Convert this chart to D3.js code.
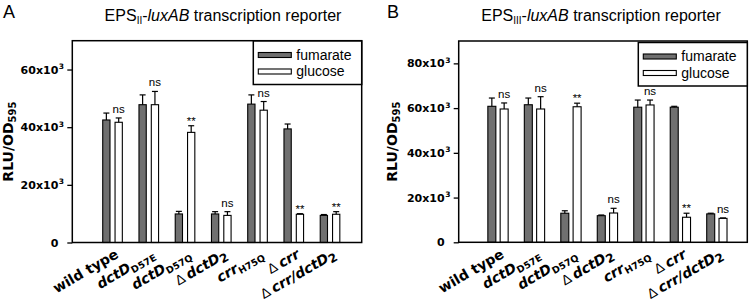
<!DOCTYPE html>
<html><head><meta charset="utf-8">
<script src="https://cdn.jsdelivr.net/npm/d3@7"></script>
<style>body{margin:0;background:#fff}svg{display:block}</style>
</head><body>
<svg id="c" width="750" height="302"></svg>
<script>
// ---------- data ----------
const categories = ["wild type", "dctD_D57E", "dctD_D57Q", "Δ dctD_2", "crr_H75Q", "Δ crr", "Δ crr/dctD_2"];
const seriesNames = ["fumarate", "glucose"];

const a_fumarate    = [42500, 47800,  9900,  9900, 48000, 39400,  9400];
const a_fumarateErr = [ 2400,  3400,   900,   800,  3200,  1700,   300];
const a_glucose     = [41700, 47800, 38200,  9400, 45900,  9800,  9800];
const a_glucoseErr  = [ 1500,  4600,  2300,  1300,  3000,   200,   900];
const a_sig         = ["ns", "ns", "**", "ns", "ns", "**", "**"];
const a_ticks       = [0, 20000, 40000, 60000];

const b_fumarate    = [60800, 61500, 13000, 11900, 60400, 60400, 12700];
const b_fumarateErr = [ 3700,  3000,  1100,   300,  3200,   400,   300];
const b_glucose     = [59600, 59600, 60600, 13100, 61400, 11200, 10700];
const b_glucoseErr  = [ 2700,  5500,  1600,  2100,  2200,  1800,   200];
const b_sig         = ["ns", "ns", "**", "ns", "ns", "**", "ns"];
const b_ticks       = [0, 20000, 40000, 60000, 80000];

const svg = d3.select("#c");
const BOLD = "'DejaVu Sans', sans-serif";
const REG = "'Liberation Sans', Arial, sans-serif";

function drawPanel(o) {
  const g = svg.append("g");
  const y = d3.scaleLinear().domain([0, o.yMax]).range([o.bottom, o.top]);
  const x0 = d3.scaleBand().domain(categories).range(o.groupRange).paddingInner(0);
  const x1 = d3.scaleBand().domain(seriesNames).range([-o.pairW / 2, o.pairW / 2]).paddingInner(o.innerPad);
  const cx = c => x0(c) + x0.bandwidth() / 2;

  const rows = categories.map((c, i) => ({
    c, i,
    vals: [
      {s: "fumarate", v: o.fum[i], e: o.fumErr[i]},
      {s: "glucose", v: o.glu[i], e: o.gluErr[i]}
    ]
  }));

  // bars
  const bars = g.selectAll("g.grp").data(rows).join("g").attr("class", "grp");
  bars.selectAll("rect").data(d => d.vals.map(v => ({...v, c: d.c}))).join("rect")
    .attr("x", d => cx(d.c) + x1(d.s))
    .attr("y", d => y(d.v))
    .attr("width", x1.bandwidth())
    .attr("height", d => y(0) - y(d.v))
    .attr("fill", d => d.s === "fumarate" ? "#707070" : "#fff")
    .attr("stroke", "#000").attr("stroke-width", 1.1);

  // error bars (upper only)
  const eb = bars.selectAll("g.eb").data(d => d.vals.map(v => ({...v, c: d.c}))).join("g").attr("class", "eb");
  eb.append("line")
    .attr("x1", d => cx(d.c) + x1(d.s) + x1.bandwidth() / 2)
    .attr("x2", d => cx(d.c) + x1(d.s) + x1.bandwidth() / 2)
    .attr("y1", d => y(d.v)).attr("y2", d => y(d.v + d.e))
    .attr("stroke", "#000").attr("stroke-width", 1.2);
  eb.append("line")
    .attr("x1", d => cx(d.c) + x1(d.s) + x1.bandwidth() / 2 - 3)
    .attr("x2", d => cx(d.c) + x1(d.s) + x1.bandwidth() / 2 + 3)
    .attr("y1", d => y(d.v + d.e)).attr("y2", d => y(d.v + d.e))
    .attr("stroke", "#000").attr("stroke-width", 1.2);

  // significance
  g.selectAll("text.sig").data(rows).join("text").attr("class", "sig")
    .attr("x", d => cx(d.c) + x1("glucose") + x1.bandwidth() / 2)
    .attr("y", d => y(o.glu[d.i] + o.gluErr[d.i]) + (o.sig[d.i] === "**" ? -1 : -5))
    .attr("text-anchor", "middle")
    .attr("font-family", REG).attr("font-size", 11.5)
    .text(d => o.sig[d.i]);

  // frame
  g.append("rect").attr("x", o.left).attr("y", o.top)
    .attr("width", o.right - o.left).attr("height", o.bottom - o.top)
    .attr("fill", "none").attr("stroke", "#000").attr("stroke-width", 1.5);

  // y axis ticks
  const ax = g.append("g").attr("transform", `translate(${o.left},0)`)
    .call(d3.axisLeft(y).tickValues(o.ticks).tickSize(5).tickFormat(""));
  ax.select(".domain").remove();
  ax.selectAll(".tick line").attr("stroke", "#000").attr("stroke-width", 1.3);

  // tick labels
  o.ticks.forEach(t => {
    const main = t === 0 ? "0" : `${t / 1000}x10`;
    g.append("text").attr("x", o.left - 14).attr("y", y(t) + 4)
      .attr("text-anchor", "end").attr("font-family", BOLD).attr("font-weight", "bold")
      .attr("font-size", 11).text(main);
    if (t !== 0) {
      g.append("text").attr("x", o.left - 13.5).attr("y", y(t) - 0.5)
        .attr("font-family", BOLD).attr("font-weight", "bold")
        .attr("font-size", 7.5).text("3");
    }
  });

  // y label
  const yl = g.append("text")
    .attr("transform", `translate(${o.ylabelX},${(o.top + o.bottom) / 2}) rotate(-90)`)
    .attr("text-anchor", "middle").attr("font-family", BOLD).attr("font-weight", "bold")
    .attr("font-size", 14);
  yl.append("tspan").text("RLU/OD");
  yl.append("tspan").attr("font-size", 10).attr("dy", 3).text("595");

  // category labels
  categories.forEach(c => {
    const t = g.append("text")
      .attr("transform", `translate(${cx(c) + o.labDx},${o.labY}) rotate(${o.labAngle})`)
      .attr("text-anchor", "end").attr("font-family", BOLD).attr("font-weight", "bold")
      .attr("font-size", 14);
    let body = c;
    if (body.startsWith("Δ ")) {
      t.append("tspan").attr("font-weight", "normal").attr("font-family", REG).text("Δ ");
      body = body.slice(2);
    }
    const parts = body.split("_");
    t.append("tspan").attr("font-style", c === "wild type" ? "normal" : "italic").text(parts[0]);
    if (parts[1]) {
      t.append("tspan").attr("font-size", parts[1].length > 1 ? 9.5 : 12).attr("dy", 3).text(parts[1]);
    }
  });

  // title
  const tt = g.append("text").attr("x", o.titleX).attr("y", 21).attr("text-anchor", "middle")
    .attr("font-family", REG).attr("font-size", 16);
  tt.append("tspan").text("EPS");
  tt.append("tspan").attr("font-size", 10).attr("dy", 3).text(o.sub);
  tt.append("tspan").attr("dy", -3).text("-");
  tt.append("tspan").attr("font-style", "italic").text("luxAB");
  tt.append("tspan").text(" transcription reporter");

  // panel letter
  g.append("text").attr("x", o.letterX).attr("y", 17.5).attr("font-family", REG)
    .attr("font-size", 18).text(o.letter);

  // legend
  const lg = g.append("g");
  lg.append("rect").attr("x", o.legX).attr("y", o.legY).attr("width", o.right - o.legX).attr("height", 43.5)
    .attr("fill", "#fff").attr("stroke", "#000").attr("stroke-width", 1.5);
  seriesNames.forEach((s, i) => {
    const sy = o.legY + 14 + i * 16.5;
    lg.append("rect").attr("x", o.legX + 5).attr("y", sy - 2.5).attr("width", 33).attr("height", 5)
      .attr("fill", s === "fumarate" ? "#707070" : "#fff").attr("stroke", "#000").attr("stroke-width", 1.1);
    lg.append("text").attr("x", o.legX + 43).attr("y", sy + 4.5).attr("font-family", REG)
      .attr("font-size", 14).text(s);
  });
}

drawPanel({
  left: 72.3, right: 361.7, top: 40.7, bottom: 242.5, yMax: 70000, ticks: a_ticks,
  groupRange: [94.4, 348.15], pairW: 19.6, innerPad: 0.41,
  fum: a_fumarate, fumErr: a_fumarateErr, glu: a_glucose, gluErr: a_glucoseErr, sig: a_sig,
  ylabelX: 13, labDx: 7, labY: 257, labAngle: -30,
  titleX: 223, sub: "II", letterX: 3, letter: "A", legX: 253.3, legY: 41
});
drawPanel({
  left: 458.7, right: 747.3, top: 41, bottom: 242.3, yMax: 90000, ticks: b_ticks,
  groupRange: [479.76, 735.1], pairW: 20.3, innerPad: 0.35,
  fum: b_fumarate, fumErr: b_fumarateErr, glu: b_glucose, gluErr: b_glucoseErr, sig: b_sig,
  ylabelX: 397, labDx: 7, labY: 257, labAngle: -30,
  titleX: 601, sub: "III", letterX: 387, letter: "B", legX: 638.3, legY: 42.5
});
</script>
</body></html>
